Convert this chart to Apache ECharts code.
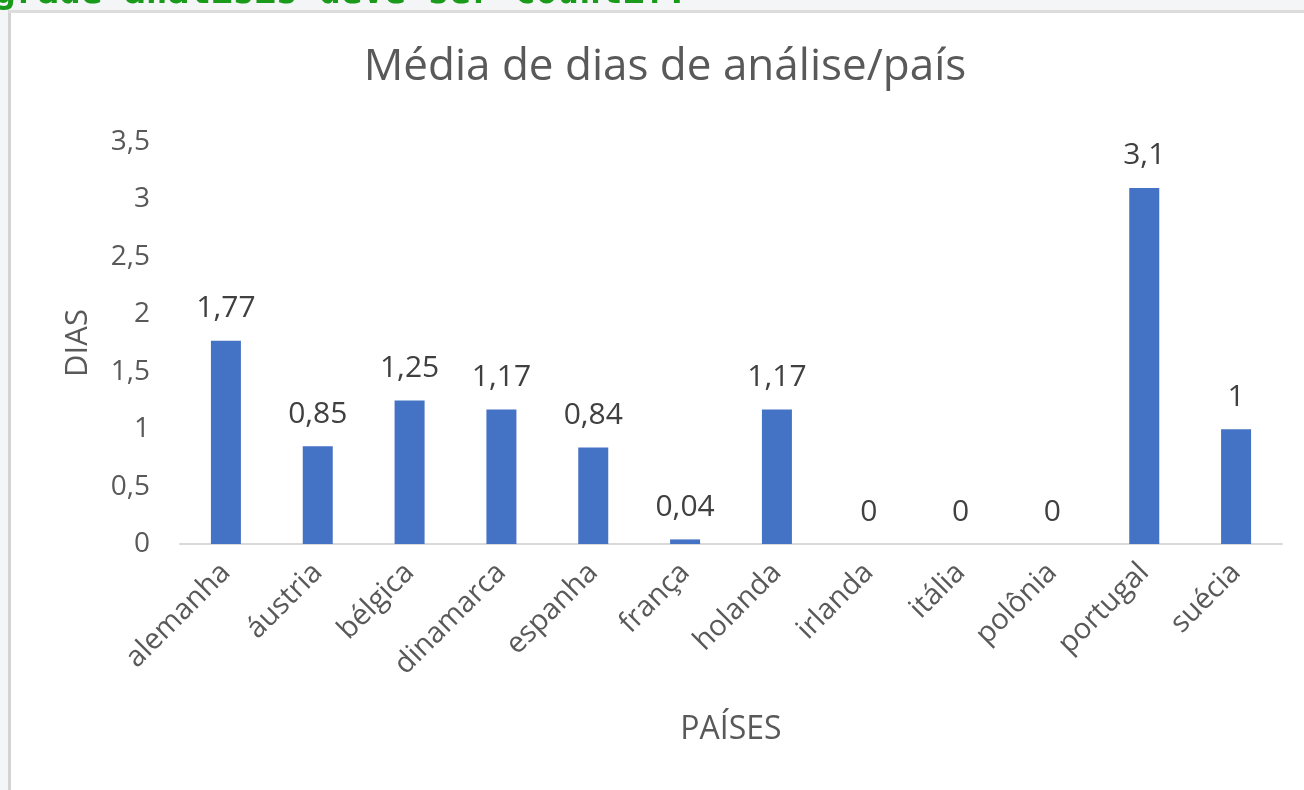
<!DOCTYPE html>
<html><head><meta charset="utf-8">
<script src="https://cdn.jsdelivr.net/npm/echarts@6/dist/echarts.min.js"></script>
<style>html,body{margin:0;padding:0;background:#f4f5f6;}#c{width:1304px;height:790px;}</style>
</head><body><div id="c"></div>
<script>
const categories = ['alemanha','áustria','bélgica','dinamarca','espanha','frança','holanda','irlanda','itália','polônia','portugal','suécia'];
const values = [1.77, 0.85, 1.25, 1.17, 0.84, 0.04, 1.17, 0, 0, 0, 3.1, 1];
const yTicks = [0, 0.5, 1, 1.5, 2, 2.5, 3, 3.5];
const titleText = 'Média de dias de análise/país';
const yName = 'DIAS';
const xName = 'PAÍSES';
const headerText = 'grade análisis deve ser countif.';

const font = '"Open Sans", Lato, sans-serif';
const fmt = v => String(v).replace('.', ',');
const chart = echarts.init(document.getElementById('c'));
chart.setOption({
  animation: false,
  backgroundColor: 'transparent',
  graphic: [
    {type:'rect', z:-10, shape:{x:10,y:12,width:1294,height:778}, style:{fill:'#ffffff'}},
    {type:'rect', z:-9, shape:{x:8,y:10,width:3,height:780}, style:{fill:'#d3d3d3'}},
    {type:'rect', z:-9, shape:{x:8,y:10,width:1296,height:3}, style:{fill:'#dcdcdc'}},
    {type:'text', z:-11, left:-6, top:-24, style:{text:headerText, fill:'#1a9a1a', font:'bold 36px "DejaVu Sans Mono", monospace'}},
    {type:'text', x:665, y:45, style:{text:titleText, fill:'#595959', font:'44px ' + font, align:'center', verticalAlign:'top'}}
  ],
  grid: {left:180, right:22, top:142, bottom:246, containLabel:false},
  xAxis: {
    type:'category', data:categories,
    axisLine:{lineStyle:{color:'#d9d9d9', width:2}},
    axisTick:{show:false},
    axisLabel:{rotate:45, color:'#595959', fontSize:29, fontFamily:font, margin:24, interval:0},
    name:xName, nameLocation:'middle', nameGap:170,
    nameTextStyle:{color:'#595959', fontSize:32, fontFamily:font}
  },
  yAxis: {
    type:'value', min:0, max:3.5, interval:0.5,
    splitLine:{show:false}, axisLine:{show:false}, axisTick:{show:false},
    axisLabel:{color:'#595959', fontSize:28, fontFamily:font, margin:30, formatter: v => fmt(v)},
    name:yName, nameLocation:'middle', nameGap:86, nameRotate:90,
    nameTextStyle:{color:'#595959', fontSize:31, fontFamily:font}
  },
  series: [{
    type:'bar', data:values, barWidth:30,
    itemStyle:{color:'#4472c4'},
    label:{show:true, position:'top', distance:17, color:'#404040', fontSize:30, fontFamily:font, formatter: p => fmt(p.value)}
  }]
});
</script></body></html>
